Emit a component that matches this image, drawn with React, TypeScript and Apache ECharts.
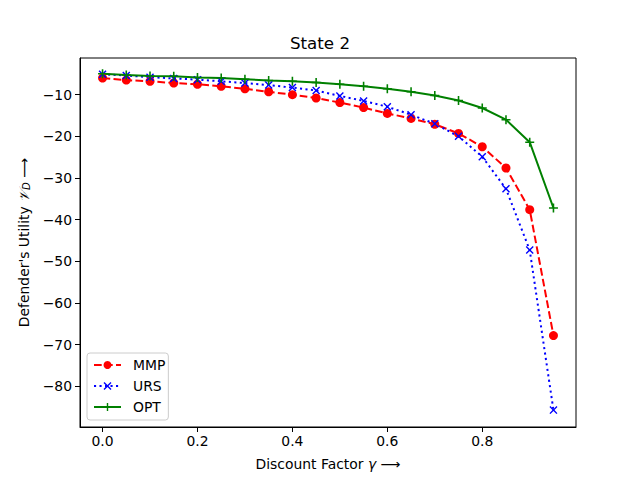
import React, { useEffect, useRef } from "react";
import * as echarts from "echarts";

const gamma = [0.0, 0.05, 0.1, 0.15, 0.2, 0.25, 0.3, 0.35, 0.4, 0.45, 0.5, 0.55, 0.6, 0.65, 0.7, 0.75, 0.8, 0.85, 0.9, 0.95];
const mmp = [-6.0, -6.5, -6.8, -7.2, -7.5, -8.0, -8.6, -9.3, -10.0, -10.8, -11.9, -13.1, -14.5, -15.7, -17.1, -19.3, -22.5, -27.6, -37.6, -67.8];
const urs = [-5.1, -5.4, -5.8, -6.1, -6.4, -6.8, -7.2, -7.7, -8.3, -9.0, -10.3, -11.5, -12.9, -14.8, -17.0, -20.0, -24.9, -32.6, -47.3, -85.7];
const opt = [-5.0, -5.3, -5.5, -5.6, -5.9, -6.0, -6.3, -6.6, -6.8, -7.1, -7.5, -8.0, -8.6, -9.3, -10.2, -11.4, -13.2, -16.0, -21.4, -37.2];
const seriesNames = ["MMP", "URS", "OPT"];
const xTicks = [0, 0.2, 0.4, 0.6, 0.8];
const yTicks = [-80, -70, -60, -50, -40, -30, -20, -10];

const PLUS =
  "path://M-1.75,-10 L1.75,-10 L1.75,-1.75 L10,-1.75 L10,1.75 L1.75,1.75 L1.75,10 L-1.75,10 L-1.75,1.75 L-10,1.75 L-10,-1.75 L-1.75,-1.75 Z";
const CROSS =
  "path://M-10,-7.53 L-7.53,-10 L0,-2.47 L7.53,-10 L10,-7.53 L2.47,0 L10,7.53 L7.53,10 L0,2.47 L-7.53,10 L-10,7.53 L-2.47,0 Z";

const FONT = "DejaVu Sans";

function pairs(ys: number[]) {
  return gamma.map((g, i) => [g, ys[i]]);
}

export default function App() {
  const ref = useRef<HTMLDivElement>(null);
  useEffect(() => {
    if (!ref.current) return;
    const chart = echarts.init(ref.current, null, { renderer: "svg" });
    chart.setOption({
      animation: false,
      backgroundColor: "#ffffff",
      textStyle: { fontFamily: FONT },
      title: {
        text: "State 2",
        left: "center",
        top: 29,
        textStyle: { fontFamily: FONT, fontSize: 16.7, fontWeight: "normal", color: "#000" },
      },
      grid: {
        left: 80,
        right: 64,
        top: 58,
        bottom: 53,
        show: true,
        borderColor: "#000",
        borderWidth: 1,
        backgroundColor: "transparent",
      },
      legend: {
        orient: "vertical",
        left: 87,
        top: 353,
        data: seriesNames,
        itemWidth: 27,
        itemHeight: 10,
        itemGap: 7,
        padding: [5, 3, 6, 6],
        backgroundColor: "rgba(255,255,255,0.8)",
        borderColor: "#cccccc",
        borderWidth: 1,
        borderRadius: 3,
        textStyle: { fontFamily: FONT, fontSize: 13.9, color: "#000", padding: [0, 0, 0, 7] },
      },
      xAxis: {
        type: "value",
        min: -0.0475,
        max: 0.9975,
        name: "Discount Factor {g|γ} ⟶",
        nameLocation: "middle",
        nameGap: 30,
        nameTextStyle: {
          fontFamily: FONT,
          fontSize: 13.9,
          color: "#000",
          rich: { g: { fontFamily: FONT, fontSize: 13.9, fontStyle: "italic", color: "#000" } },
        },
        splitLine: { show: false },
        axisLine: { show: true, onZero: false, lineStyle: { color: "#000", width: 1 } },
        axisTick: { show: true, length: 5, customValues: xTicks, lineStyle: { color: "#000" } },
        axisLabel: {
          customValues: xTicks,
          margin: 7,
          fontFamily: FONT,
          fontSize: 13.9,
          color: "#000",
          formatter: (v: number) => v.toFixed(1),
        },
      },
      yAxis: {
        type: "value",
        min: -89.75,
        max: -1.2,
        name: "Defender's Utility {v|𝒱}{s|D} ⟶",
        nameLocation: "middle",
        nameRotate: 90,
        nameGap: 48,
        nameTextStyle: {
          fontFamily: FONT,
          fontSize: 13.9,
          color: "#000",
          rich: {
            v: { fontFamily: FONT, fontSize: 13.9, fontStyle: "italic", color: "#000" },
            s: { fontFamily: FONT, fontSize: 10, fontStyle: "italic", color: "#000", padding: [6, 0, 0, 0] },
          },
        },
        splitLine: { show: false },
        axisLine: { show: true, onZero: false, lineStyle: { color: "#000", width: 1 } },
        axisTick: { show: true, length: 5, customValues: yTicks, lineStyle: { color: "#000" } },
        axisLabel: {
          customValues: yTicks,
          margin: 8,
          fontFamily: FONT,
          fontSize: 13.9,
          color: "#000",
          formatter: (v: number) => String(v).replace("-", "\u2212"),
        },
      },
      series: [
        {
          name: seriesNames[0],
          type: "line",
          data: pairs(mmp),
          symbol: "circle",
          symbolSize: 9,
          lineStyle: { color: "#ff0000", width: 2, type: [7.7, 3.3] },
          itemStyle: { color: "#ff0000" },
        },
        {
          name: seriesNames[1],
          type: "line",
          data: pairs(urs),
          symbol: CROSS,
          symbolSize: 8,
          lineStyle: { color: "#0000ff", width: 2, type: [2.1, 3.4] },
          itemStyle: { color: "#0000ff" },
        },
        {
          name: seriesNames[2],
          type: "line",
          data: pairs(opt),
          symbol: PLUS,
          symbolSize: 9,
          lineStyle: { color: "#008000", width: 2, type: "solid" },
          itemStyle: { color: "#008000" },
        },
      ],
    });
    return () => chart.dispose();
  }, []);
  return (
    <div
      ref={ref}
      style={{ position: "fixed", left: 0, top: 0, width: 640, height: 480, background: "#fff" }}
    />
  );
}
